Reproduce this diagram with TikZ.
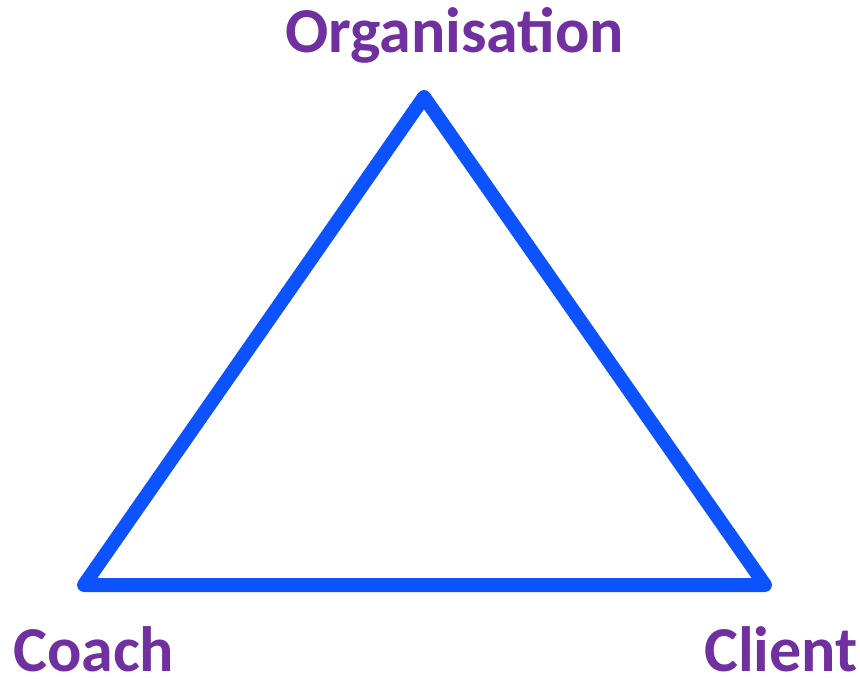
\documentclass[tikz,border=0pt]{standalone}
\usepackage{fontspec}
\setmainfont{Carlito}
\definecolor{edgeblue}{HTML}{0D52FF}
\definecolor{labelpurple}{HTML}{7030A0}
\begin{document}
\begin{tikzpicture}[x=1pt,y=-1pt,
  side/.style={draw=edgeblue,line width=14pt,line join=round,line cap=round},
  role/.style={text=labelpurple,font=\fontsize{64}{70}\selectfont\bfseries,inner sep=0pt,anchor=base west}]
  \useasboundingbox (0,0) rectangle (860,678);
  % corners of the relationship triangle
  \coordinate (top) at (424,97);
  \coordinate (left) at (84,585);
  \coordinate (right) at (765,585);
  \draw[side] (top) -- (right) -- (left) -- cycle;
  % the three parties
  \node[role] (org) at (285,52) {Organisation};
  \node[role] (coach) at (13,671) {Coach};
  \node[role] (client) at (704,671) {Client};
\end{tikzpicture}
\end{document}
